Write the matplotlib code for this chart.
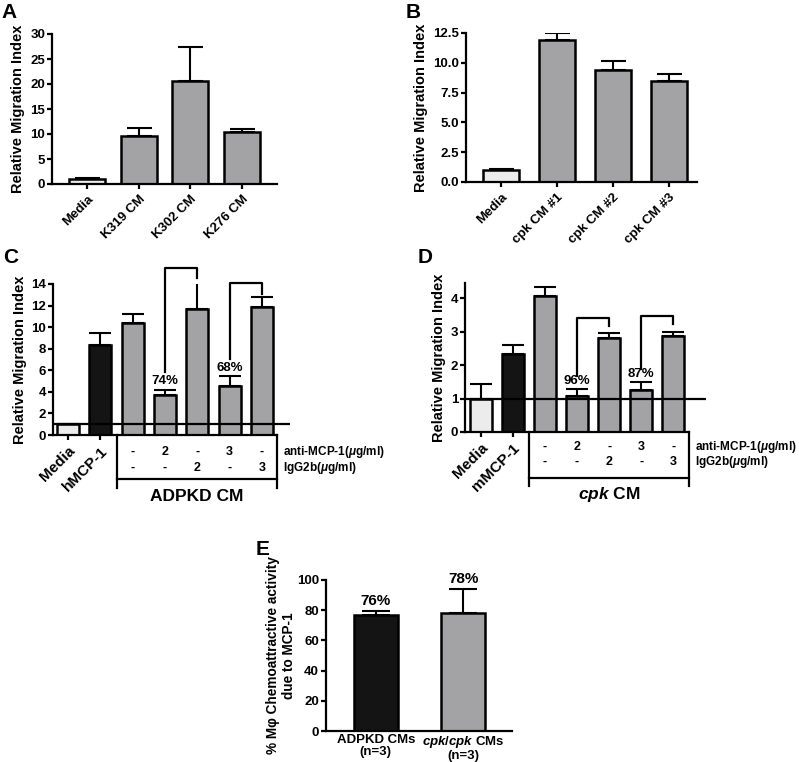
"""
Macrophage migration panels (A-E)
Output: out.png
"""
import matplotlib
matplotlib.use("Agg")
import matplotlib.pyplot as plt
import matplotlib.transforms as mtransforms

plt.rcParams["font.family"] = ["Liberation Sans", "DejaVu Sans"]
plt.rcParams["font.weight"] = "bold"
plt.rcParams["axes.labelweight"] = "bold"
plt.rcParams["mathtext.fontset"] = "custom"
plt.rcParams["mathtext.it"] = "Liberation Sans:italic:bold"
plt.rcParams["mathtext.rm"] = "Liberation Sans:bold"
plt.rcParams["axes.linewidth"] = 1.6

# Data
a_labels = ["Media", "K319 CM", "K302 CM", "K276 CM"]
a_means = [1.0, 9.6, 20.6, 10.4]
a_err = [0.2, 1.7, 6.8, 0.7]

b_labels = ["Media", "cpk CM #1", "cpk CM #2", "cpk CM #3"]
b_means = [1.0, 11.95, 9.4, 8.5]
b_err = [0.05, 0.55, 0.75, 0.55]

c_labels = ["Media", "hMCP-1"]
c_means = [1.0, 8.3, 10.4, 3.75, 11.65, 4.5, 11.9]
c_err = [0.0, 1.2, 0.8, 0.45, 2.55, 0.95, 0.85]
c_pct = ["74%", "68%"]

d_labels = ["Media", "mMCP-1"]
d_means = [1.0, 2.33, 4.05, 1.07, 2.8, 1.25, 2.88]
d_err = [0.42, 0.27, 0.28, 0.2, 0.15, 0.23, 0.12]
d_pct = ["96%", "87%"]

anti_mcp1 = ["-", "2", "-", "3", "-"]
igg2b = ["-", "-", "2", "-", "3"]

e_labels = ["ADPKD CMs\n(n=3)", "$cpk/cpk$ CMs\n(n=3)"]
e_means = [76.5, 78.0]
e_err = [3.0, 16.0]
e_pct = ["76%", "78%"]

LIGHT = "#ececec"
GRAY = "#a3a3a6"
BLACK = "#141414"

W, H = 799, 762
fig = plt.figure(figsize=(W / 100, H / 100), dpi=100)


def px_axes(x0, y0, x1, y1):
    return fig.add_axes([x0 / W, 1 - y1 / H, (x1 - x0) / W, (y1 - y0) / H])


def style(ax):
    for s in ["top", "right"]:
        ax.spines[s].set_visible(False)
    ax.tick_params(direction="out", length=3.5, width=1.6, labelsize=9.5,
                   pad=1.5)
    for t in ax.get_yticklabels():
        t.set_fontweight("bold")


def bars(ax, x, means, err, colors, width, cap):
    ax.errorbar(x, means, yerr=[[0] * len(err), err], fmt="none",
                ecolor="black", elinewidth=1.5, capsize=cap, capthick=1.5,
                zorder=1)
    ax.bar(x, means, width=width, color=colors, edgecolor="black",
           linewidth=1.8, zorder=2)


# ---------- A ----------
ax = px_axes(52, 34, 277, 184)
xa = list(range(len(a_means)))
bars(ax, xa, a_means, a_err, [LIGHT] + [GRAY] * 3, 0.7, 9)
ax.set_xlim(-0.68, 3.68)
ax.set_ylim(0, 30)
ax.set_yticks([0, 5, 10, 15, 20, 25, 30])
ax.set_xticks(xa)
ax.set_xticklabels(a_labels, rotation=45, ha="right", rotation_mode="anchor",
                   fontsize=8.5, fontweight="bold")
ax.set_ylabel("Relative Migration Index", fontsize=10.5, labelpad=4)
style(ax)
ax.tick_params(axis="x", pad=3)

# ---------- B ----------
ax = px_axes(466, 33, 697, 182)
xb = list(range(len(b_means)))
bars(ax, xb, b_means, b_err, [LIGHT] + [GRAY] * 3, 0.66, 9)
ax.set_xlim(-0.625, 3.5)
ax.set_ylim(0, 12.5)
ax.set_yticks([0, 2.5, 5, 7.5, 10, 12.5])
ax.set_yticklabels(["0.0", "2.5", "5.0", "7.5", "10.0", "12.5"])
ax.set_xticks(xb)
ax.set_xticklabels(b_labels, rotation=45, ha="right", rotation_mode="anchor",
                   fontsize=8.5, fontweight="bold")
ax.set_ylabel("Relative Migration Index", fontsize=10.5, labelpad=4)
style(ax)
ax.tick_params(axis="x", pad=3)


def treatment_panel(ax, means, err, labels, pct, ymax, yticks, box, rows,
                    cm_label, bracket_pad, pct_pad, bracket_rise):
    x = list(range(len(means)))
    bars(ax, x, means, err, [LIGHT, BLACK] + [GRAY] * 5, 0.68, 8)
    ax.set_ylim(0, ymax)
    ax.set_yticks(yticks)
    ax.set_xticks(x[:2])
    ax.set_xticklabels(labels, rotation=45, ha="right", rotation_mode="anchor",
                       fontsize=11, fontweight="bold")
    style(ax)
    ax.tick_params(axis="x", labelsize=11, pad=3)
    ax.spines["bottom"].set_bounds(ax.get_xlim()[0], box[1])
    # reference line at 1
    ax.axhline(1, color="black", lw=1.6, zorder=3)
    tr = mtransforms.blended_transform_factory(ax.transData, ax.transAxes)
    bx0, bx1, by, bext = box
    ax.plot([bx0, bx0], [0, bext], transform=tr, color="black", lw=1.6,
            clip_on=False)
    ax.plot([bx1, bx1], [0, bext], transform=tr, color="black", lw=1.6,
            clip_on=False)
    ax.plot([bx0, bx1], [by, by], transform=tr, color="black", lw=1.6,
            clip_on=False)
    for i, (a, g) in enumerate(zip(anti_mcp1, igg2b)):
        ax.text(x[i + 2], rows[0], a, transform=tr, ha="center", va="center",
                fontsize=9, fontweight="bold")
        ax.text(x[i + 2], rows[1], g, transform=tr, ha="center", va="center",
                fontsize=9, fontweight="bold")
    ax.text(bx1 + 0.18, rows[0], r"anti-MCP-1($\mu$g/ml)", transform=tr,
            ha="left", va="center", fontsize=8.5, fontweight="bold")
    ax.text(bx1 + 0.18, rows[1], r"IgG2b($\mu$g/ml)", transform=tr,
            ha="left", va="center", fontsize=8.5, fontweight="bold")
    ax.text((bx0 + bx1) / 2, rows[2], cm_label, transform=tr, ha="center",
            va="center", fontsize=12.5, fontweight="bold")
    # percent inhibition labels and brackets
    for k, (i, j) in enumerate([(3, 4), (5, 6)]):
        top_i = means[i] + err[i]
        top_j = means[j] + err[j]
        ax.text(i, top_i + pct_pad, pct[k], ha="center", va="bottom",
                fontsize=9.5, fontweight="bold")
        start = top_i + pct_pad + bracket_rise[0]
        right = top_j + bracket_pad
        top = right + bracket_rise[1]
        ax.plot([i, i, j, j], [start, top, top, right], color="black",
                lw=1.6, clip_on=False)
    ax.set_ylabel("Relative Migration Index", fontsize=10.5, labelpad=3)


# ---------- C ----------
ax = px_axes(53, 284, 290, 435)
ax.set_xlim(-0.46, 6.87)
treatment_panel(ax, c_means, c_err, c_labels, c_pct, 14,
                [0, 2, 4, 6, 8, 10, 12, 14],
                (1.52, 6.47, -0.291, -0.351), (-0.113, -0.219, -0.41),
                "ADPKD CM", 0.35, 0.25, (1.35, 0.95))

# ---------- D ----------
ax = px_axes(465, 283, 706, 432)
ax.set_xlim(-0.49, 7.02)
treatment_panel(ax, d_means, d_err, d_labels, d_pct, 4.45, [0, 1, 2, 3, 4],
                (1.5, 6.49, -0.309, -0.362), (-0.10, -0.20, -0.42),
                "$cpk$ CM", 0.22, 0.08, (0.32, 0.23))

# ---------- E ----------
ax = px_axes(326, 580, 512, 731)
xe = list(range(len(e_means)))
bars(ax, xe, e_means, e_err, [BLACK, GRAY], 0.5, 10)
ax.set_xlim(-0.57, 1.56)
ax.set_ylim(0, 100)
ax.set_yticks([0, 20, 40, 60, 80, 100])
ax.set_xticks(xe)
ax.set_xticklabels(e_labels, fontsize=9.3, fontweight="bold",
                   linespacing=0.95)
style(ax)
ax.tick_params(axis="x", length=0, pad=2.5)
for i, p in enumerate(e_pct):
    ax.text(xe[i], e_means[i] + e_err[i] + 2, p, ha="center", va="bottom",
            fontsize=11, fontweight="bold")
ax.set_ylabel("% M\u03c6 Chemoattractive activity\ndue to MCP-1",
              fontsize=9.8, labelpad=1, linespacing=1.1)

# panel letters
for letter, (px, py) in {"A": (1, 3), "B": (406, 3), "C": (3, 248),
                          "D": (418, 248), "E": (256, 540)}.items():
    fig.text(px / W, 1 - py / H, letter, fontsize=15, fontweight="bold",
             va="top", ha="left")

fig.savefig("out.png", dpi=100)
